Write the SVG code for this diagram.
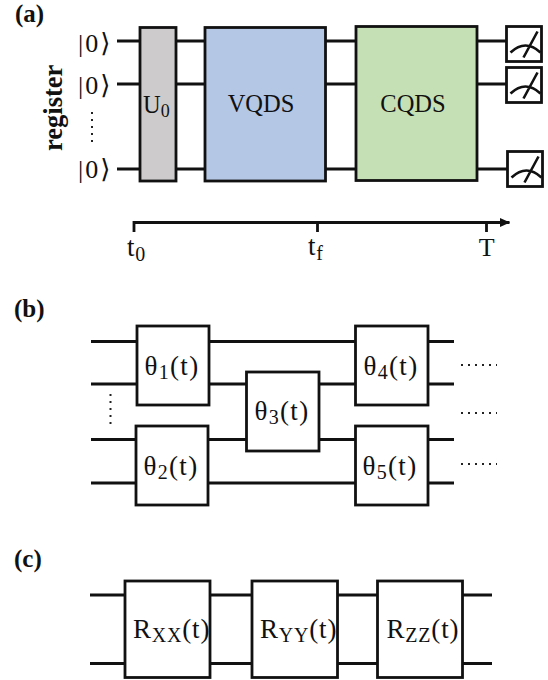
<svg xmlns="http://www.w3.org/2000/svg" width="548" height="680" viewBox="0 0 548 680">
<defs>
<style>
.w{stroke:#111;stroke-width:2.8;fill:none}
.b{stroke:#111;stroke-width:2.8;fill:#fff}
.m{stroke:#111;stroke-width:2.6;fill:none}
.d{stroke:#222;stroke-width:2;stroke-dasharray:2 5;fill:none}
text{font-family:"Liberation Serif","DejaVu Serif",serif;fill:#111}
.l{font-weight:bold;font-size:25px}
.g{font-size:27px;letter-spacing:.8px}
.t{letter-spacing:1.300px}
.n{font-size:24.500px}
.s{font-size:20px}
.k{font-size:26px;letter-spacing:2px}
</style>
<marker id="ah" markerUnits="userSpaceOnUse" markerWidth="12" markerHeight="12" refX="9.500" refY="5" orient="auto"><path d="M0 0.500L10 5L0 9.500Z" fill="#111"/></marker>
<g id="meter"><rect class="b" width="35" height="35"/><path class="m" d="M4 26Q19 12 34 26M17 31L31 5"/></g>
</defs>
<rect width="548" height="680" fill="#fff"/>
<g id="connectors">
<path class="w" d="M117 41H506M117 84H506M117 169H507"/>
<path class="w" d="M134 232V222.500H509.500" marker-end="url(#ah)"/>
<path class="w" d="M317.500 222.500V232M486.500 222.500V232"/>
<path class="w" d="M91 341.500H454M91 384H454M91 439.500H454M91 483H454"/>
<path class="w" d="M90 595H492M90 663.500H492"/>
</g>
<text class="l" x="15" y="22">(a)</text>
<text class="l" x="14" y="317">(b)</text>
<text class="l" x="14" y="567">(c)</text>
<g id="register-labels">
<text transform="translate(62 151) rotate(-90)" font-weight="bold" style="font-size:26.500px">register</text>
<text class="k" x="78" y="52">|0⟩</text>
<text class="k" x="78" y="94">|0⟩</text>
<text class="k" x="78" y="178">|0⟩</text>
<path class="d" d="M92 112V147"/>
</g>
<g id="U0"><rect x="140" y="27.500" width="36" height="153.500" fill="#cdcbcb" stroke="#111" stroke-width="2.800"/><text class="n" x="143" y="113">U<tspan style="font-size:18px" dy="4">0</tspan></text></g>
<g id="VQDS"><rect x="205" y="27.500" width="120.500" height="153.500" fill="#b4c7e5" stroke="#111" stroke-width="2.800"/><text class="n" x="261" y="112" text-anchor="middle">VQDS</text></g>
<g id="CQDS"><rect x="356" y="26.500" width="121" height="154" fill="#c5e0b4" stroke="#111" stroke-width="2.800"/><text class="n" x="413" y="112" text-anchor="middle">CQDS</text></g>
<use id="meter1" href="#meter" x="506.500" y="26.500"/>
<use id="meter2" href="#meter" x="506.500" y="67.500"/>
<use id="meter3" href="#meter" x="507.500" y="151.500"/>
<g id="axis-labels">
<text class="g" x="127" y="256">t<tspan class="s" dy="5">0</tspan></text>
<text class="g" x="308" y="255">t<tspan class="s" dy="5">f</tspan></text>
<text class="g" x="487" y="255.500" text-anchor="middle" style="font-size:26px">T</text>
</g>
<g id="theta1"><rect class="b" x="137" y="326" width="72" height="79"/><text class="g t" x="172" y="375" text-anchor="middle">θ<tspan class="s" dy="4">1</tspan><tspan dy="-4">(t)</tspan></text></g>
<g id="theta2"><rect class="b" x="136" y="426" width="72" height="79"/><text class="g t" x="171" y="475" text-anchor="middle">θ<tspan class="s" dy="4">2</tspan><tspan dy="-4">(t)</tspan></text></g>
<g id="theta3"><rect class="b" x="246.500" y="372" width="72.500" height="79"/><text class="g t" x="282" y="420" text-anchor="middle">θ<tspan class="s" dy="4">3</tspan><tspan dy="-4">(t)</tspan></text></g>
<g id="theta4"><rect class="b" x="355.500" y="326" width="72.500" height="79"/><text class="g t" x="391" y="375" text-anchor="middle">θ<tspan class="s" dy="4">4</tspan><tspan dy="-4">(t)</tspan></text></g>
<g id="theta5"><rect class="b" x="355.500" y="426" width="72.500" height="79"/><text class="g t" x="390" y="475" text-anchor="middle">θ<tspan class="s" dy="4">5</tspan><tspan dy="-4">(t)</tspan></text></g>
<g id="dots">
<path class="d" d="M110.500 394V429M461 365H497M461 413H497M461 464H497"/>
</g>
<g id="Rxx"><rect class="b" x="125" y="581" width="85" height="96.500"/><text class="g" x="133" y="638">R<tspan class="s" dy="4">XX</tspan><tspan dy="-4">(t)</tspan></text></g>
<g id="Ryy"><rect class="b" x="252" y="581" width="85.500" height="96.500"/><text class="g" x="260" y="638">R<tspan class="s" dy="4">YY</tspan><tspan dy="-4">(t)</tspan></text></g>
<g id="Rzz"><rect class="b" x="377.500" y="581" width="85" height="96.500"/><text class="g" x="386.500" y="638">R<tspan class="s" dy="4">ZZ</tspan><tspan dy="-4">(t)</tspan></text></g>
</svg>
